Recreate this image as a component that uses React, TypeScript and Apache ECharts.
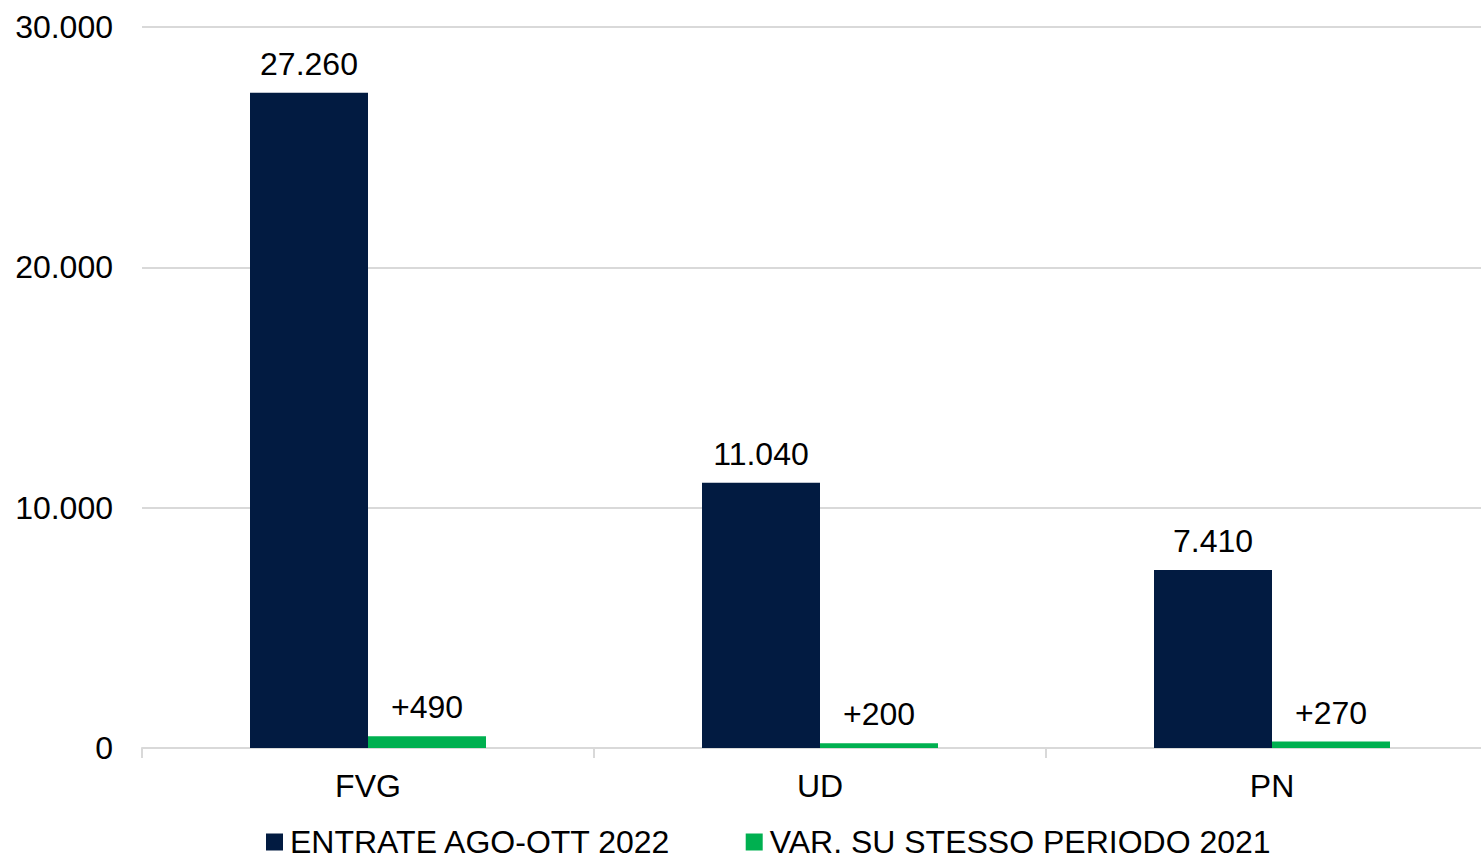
import React, { useEffect, useRef } from "react";
import * as echarts from "echarts";

const categories = ["FVG", "UD", "PN"];
const seriesNames = ["ENTRATE AGO-OTT 2022", "VAR. SU STESSO PERIODO 2021"];
const entrate = [27260, 11040, 7410];
const variazioni = [490, 200, 270];
const yTicks = { min: 0, max: 30000, interval: 10000 };

const fmt = (v: number) =>
  Math.round(v)
    .toString()
    .replace(/\B(?=(\d{3})+(?!\d))/g, ".");

const FONT = "'Liberation Sans', Arial, sans-serif";

export default function App() {
  const ref = useRef<HTMLDivElement>(null);
  useEffect(() => {
    document.body.style.margin = "0";
    const chart = echarts.init(ref.current!, null, { renderer: "svg" });
    chart.setOption({
      animation: false,
      textStyle: { fontFamily: FONT, color: "#000" },
      grid: {
        left: 142,
        width: 1356,
        top: 27,
        bottom: 111,
        containLabel: false,
        outerBoundsMode: "none",
      },
      legend: {
        left: 266,
        top: 826,
        padding: 0,
        itemWidth: 17,
        itemHeight: 17,
        itemGap: 74,
        icon: "rect",
        textStyle: {
          fontSize: 32,
          lineHeight: 32,
          color: "#000",
          fontFamily: FONT,
          padding: [0, 0, 0, 2],
        },
        data: seriesNames,
      },
      xAxis: {
        type: "category",
        data: categories,
        axisLine: { lineStyle: { color: "#d9d9d9", width: 2 } },
        axisTick: { show: true, length: 10, lineStyle: { color: "#d9d9d9", width: 2 } },
        axisLabel: { fontSize: 32, color: "#000", margin: 22, fontFamily: FONT },
      },
      yAxis: {
        type: "value",
        min: yTicks.min,
        max: yTicks.max,
        interval: yTicks.interval,
        axisLine: { show: false },
        axisTick: { show: false },
        splitLine: { lineStyle: { color: "#d9d9d9", width: 2 } },
        axisLabel: {
          fontSize: 32,
          color: "#000",
          margin: 29,
          fontFamily: FONT,
          formatter: (v: number) => fmt(v),
        },
      },
      series: [
        {
          name: seriesNames[0],
          type: "bar",
          data: entrate,
          barWidth: 118,
          barGap: "0%",
          itemStyle: { color: "#021b41" },
          label: {
            show: true,
            position: "top",
            distance: 13,
            fontSize: 32,
            color: "#000",
            fontFamily: FONT,
            formatter: (p: any) => fmt(p.value),
          },
        },
        {
          name: seriesNames[1],
          type: "bar",
          data: variazioni,
          barWidth: 118,
          barGap: "0%",
          itemStyle: { color: "#00b050" },
          label: {
            show: true,
            position: "top",
            distance: 13,
            fontSize: 32,
            color: "#000",
            fontFamily: FONT,
            formatter: (p: any) => "+" + fmt(p.value),
          },
        },
      ],
    });
    return () => chart.dispose();
  }, []);
  return <div ref={ref} style={{ width: 1481, height: 859 }} />;
}
